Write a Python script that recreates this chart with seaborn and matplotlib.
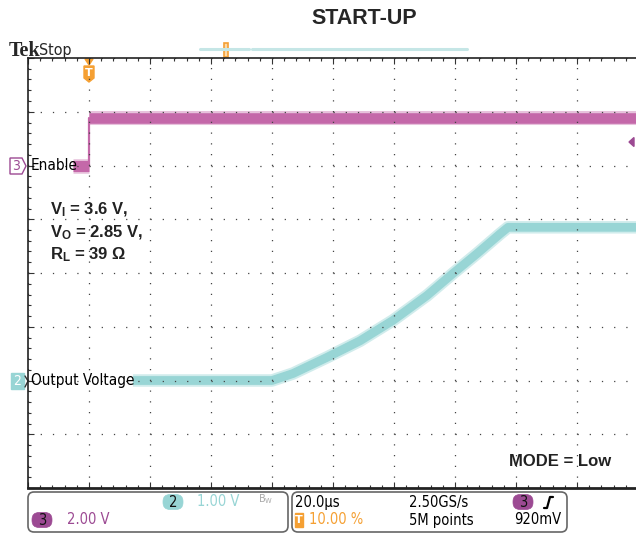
import numpy as np
import pandas as pd
import seaborn as sns
import matplotlib
matplotlib.use("Agg")
import matplotlib.pyplot as plt
from matplotlib.patches import FancyBboxPatch, Polygon, Rectangle
from matplotlib.lines import Line2D
from matplotlib.ticker import MultipleLocator
from matplotlib.transforms import Affine2D

# ---------------- data (read from the scope shot) ----------------
enable_t_us = [-5.2, 0.0, 0.0, 180.0]
enable_v = [0.0, 0.0, 1.75, 1.75]

vout_t_us = [14.4, 60.0, 66.9, 78.0, 88.9, 99.7, 110.8, 119.3, 127.2, 134.8, 137.4, 180.0]
vout_v = [0.0, 0.0, 0.13, 0.43, 0.74, 1.12, 1.58, 1.99, 2.36, 2.73, 2.85, 2.85]

time_per_div_us = 20.0
ch2_volts_per_div = 1.0
ch3_volts_per_div = 2.0
ch2_ground_div = 2.0
ch3_ground_div = 6.0
n_hdiv = 10
n_vdiv = 8
trigger_pos_frac = 0.10

title = "START-UP"
conditions = [r"$\mathbf{V_I}$ = 3.6 V,", r"$\mathbf{V_O}$ = 2.85 V,", r"$\mathbf{R_L}$ = 39 Ω"]
mode_text = "MODE = Low"

# ---------------- style ----------------
sns.set_style("white")
plt.rcParams["font.family"] = ["DejaVu Sans"]
plt.rcParams["lines.scale_dashes"] = False
plt.rcParams["mathtext.fontset"] = "custom"
plt.rcParams["mathtext.bf"] = "Liberation Sans:bold"
plt.rcParams["mathtext.rm"] = "Liberation Sans"

CH2 = "#98D5D5"
CH3 = "#C468A9"
CH3_DARK = "#9C4A93"
ORANGE = "#F5A033"

W, H = 636, 535
fig = plt.figure(figsize=(W / 100, H / 100), dpi=100)
pix = Affine2D().scale(1 / W, -1 / H).translate(0, 1) + fig.transFigure

x0_px, y_top_px, y_bot_px = 28, 58, 488
div_w = 61.0
ax = fig.add_axes([x0_px / W, 1 - y_bot_px / H, n_hdiv * div_w / W, (y_bot_px - y_top_px) / H])

t_min = -trigger_pos_frac * n_hdiv * time_per_div_us
t_max = t_min + n_hdiv * time_per_div_us

# trace axes (each channel its own vertical scale)
ax2 = ax.twinx()
ax3 = ax.twinx()
for a in (ax2, ax3):
    a.set_axis_off()
ax2.set_zorder(1)
ax3.set_zorder(2)
ax.set_zorder(3)
ax.patch.set_visible(False)

df_out = pd.DataFrame({"t": vout_t_us, "v": vout_v})
sns.lineplot(data=df_out, x="t", y="v", ax=ax2, color=CH2, lw=9.0, alpha=0.45,
             sort=False, estimator=None, solid_joinstyle="round", solid_capstyle="butt")
sns.lineplot(data=df_out, x="t", y="v", ax=ax2, color=CH2, lw=6.3,
             sort=False, estimator=None, solid_joinstyle="round", solid_capstyle="butt")

df_en = pd.DataFrame({"t": enable_t_us, "v": enable_v})
for seg, lw in (([0, 1], 8.0), ([2, 3], 7.6)):
    sns.lineplot(data=df_en.iloc[seg], x="t", y="v", ax=ax3, color=CH3, lw=lw + 2.5, alpha=0.4,
                 sort=False, estimator=None, solid_capstyle="butt")
    sns.lineplot(data=df_en.iloc[seg], x="t", y="v", ax=ax3, color=CH3, lw=lw,
                 sort=False, estimator=None, solid_capstyle="butt")
sns.lineplot(data=df_en.iloc[[1, 2]], x="t", y="v", ax=ax3, color=CH3, lw=1.6,
             sort=False, estimator=None)

ax2.set_ylim(-ch2_ground_div * ch2_volts_per_div, (n_vdiv - ch2_ground_div) * ch2_volts_per_div)
ax3.set_ylim(-ch3_ground_div * ch3_volts_per_div, (n_vdiv - ch3_ground_div) * ch3_volts_per_div)

# graticule
ax.set_xlim(t_min, t_max)
ax.set_ylim(0, n_vdiv)
ax.xaxis.set_major_locator(MultipleLocator(time_per_div_us))
ax.xaxis.set_minor_locator(MultipleLocator(time_per_div_us / 5))
ax.yaxis.set_major_locator(MultipleLocator(1))
ax.yaxis.set_minor_locator(MultipleLocator(0.2))
ax.set_xlabel("")
ax.set_ylabel("")
ax.tick_params(axis="x", which="both", direction="in", top=True, bottom=True,
               labelbottom=False, labeltop=False, color="#333333", width=0.8)
ax.tick_params(axis="x", which="major", length=4.5)
ax.tick_params(axis="x", which="minor", length=2.5)
ax.tick_params(axis="y", which="both", direction="in", left=True, right=False,
               labelleft=False, color="#333333", width=0.8)
ax.tick_params(axis="y", which="major", length=4.5)
ax.tick_params(axis="y", which="minor", length=2.5)
ax.xaxis.grid(True, which="major", color="#444444", lw=0.9,
              linestyle=(0, (0.9, 53.75 / 5 * 0.72 - 0.9)))
ax.yaxis.grid(True, which="major", color="#444444", lw=0.9,
              linestyle=(0, (0.9, div_w / 5 * 0.72 - 0.9)))
for s in ("top", "left"):
    ax.spines[s].set_color("#222222")
    ax.spines[s].set_linewidth(1.2)
ax.spines["bottom"].set_color("#222222")
ax.spines["bottom"].set_linewidth(2.0)
ax.spines["right"].set_visible(False)

# ---------------- annotations ----------------
fig.text(364, 24, title, transform=pix, ha="center", va="baseline",
         fontsize=15.5, fontweight="bold", family="Liberation Sans")
fig.text(9, 56, "Tek", transform=pix, ha="left", va="baseline", fontsize=14.5,
         fontweight="bold", family="Liberation Serif")
fig.text(39, 55, "Stop", transform=pix, ha="left", va="baseline", fontsize=11.5,
         family="DejaVu Sans", fontstretch="condensed")

for txt, yb in zip(conditions, (214, 237, 259)):
    fig.text(50, yb, txt, transform=pix, ha="left", va="baseline", fontsize=12,
             fontweight="bold", family="Liberation Sans", color="#222222")
fig.text(509, 466, mode_text, transform=pix, ha="left", va="baseline", fontsize=12,
         fontweight="bold", family="Liberation Sans", color="#222222")

# channel labels
fig.add_artist(Polygon([[10, 158], [22, 158], [26, 166], [22, 174], [10, 174]], closed=True,
                       transform=pix, fc="white", ec=CH3_DARK, lw=1.0))
fig.text(16, 166, "3", transform=pix, ha="center", va="center", fontsize=10, color=CH3_DARK,
         fontstretch="condensed")
fig.text(31, 166, "Enable", transform=pix, ha="left", va="center", fontsize=11,
         fontstretch="condensed", color="black")
fig.add_artist(Polygon([[11, 373], [24, 373], [24, 389], [11, 389]], closed=True,
                       transform=pix, fc=CH2, ec=CH2, lw=1.0))
fig.add_artist(Line2D([25, 28, 25], [376, 381, 387], transform=pix, color="#333333", lw=1.0))
fig.text(17.5, 381, "2", transform=pix, ha="center", va="center", fontsize=10, color="white",
         fontstretch="condensed")
fig.text(31, 381, "Output Voltage", transform=pix, ha="left", va="center", fontsize=11,
         fontstretch="condensed", color="black")

# trigger marker (top-left) and record view bar
fig.add_artist(Polygon([[85, 59], [93, 59], [89, 65]], closed=True, transform=pix,
                       fc=ORANGE, ec=ORANGE))
fig.add_artist(Polygon([[84, 66], [94, 66], [94, 78], [89, 82], [84, 78]], closed=True,
                       transform=pix, fc=ORANGE, ec=ORANGE))
fig.text(89, 73, "T", transform=pix, ha="center", va="center", fontsize=8, color="white",
         fontweight="bold")
fig.add_artist(Line2D([200, 249], [49, 49], transform=pix, color="#C5E6E6", lw=2.2))
fig.add_artist(Line2D([252, 467], [49, 49], transform=pix, color="#C5E6E6", lw=2.2))
fig.add_artist(Rectangle((224, 43), 4, 14, transform=pix, fc="#FBD9A8", ec=ORANGE, lw=1.2))

# right-edge channel 3 marker
fig.add_artist(Polygon([[629, 142], [634, 137.5], [634, 146.5]], closed=True, transform=pix,
                       fc=CH3_DARK, ec=CH3_DARK))

# ---------------- status bar ----------------
for (bx, bw) in ((28, 260), (292, 275)):
    fig.add_artist(FancyBboxPatch((bx, 492), bw, 40, transform=pix,
                                  boxstyle="round,pad=0,rounding_size=6",
                                  fc="white", ec="#666666", lw=1.2))


def pill(cx, cy, label, color):
    fig.add_artist(FancyBboxPatch((cx - 10, cy - 7.5), 20, 15, transform=pix,
                                  boxstyle="round,pad=0,rounding_size=7",
                                  fc=color, ec=color, lw=0.5))
    fig.text(cx, cy + 0.5, label, transform=pix, ha="center", va="center", fontsize=10.5,
             fontstretch="condensed", color="#111111")


sfont = dict(transform=pix, va="center", fontsize=10.5, fontstretch="condensed")
pill(173, 502, "2", CH2)
fig.text(197, 502, "1.00 V", ha="left", color=CH2, **sfont)
fig.text(258, 499, r"$\mathregular{B_W}$", ha="left", color="#AAAAAA", transform=pix,
         va="center", fontsize=7)
pill(42, 520, "3", CH3_DARK)
fig.text(67, 520, "2.00 V", ha="left", color=CH3_DARK, **sfont)

fig.text(295, 502, "20.0µs", ha="left", color="black", **sfont)
fig.text(409, 502, "2.50GS/s", ha="left", color="black", **sfont)
pill(523, 502, "3", CH3_DARK)
fig.add_artist(Line2D([544, 547, 550, 553], [508, 508, 497, 497], transform=pix,
                      color="black", lw=1.6))
fig.add_artist(Rectangle((295, 513), 8, 14, transform=pix, fc=ORANGE, ec=ORANGE))
fig.text(299, 520, "T", ha="center", color="white", transform=pix, va="center",
         fontsize=8, fontweight="bold")
fig.text(309, 520, "10.00 %", ha="left", color=ORANGE, **sfont)
fig.text(409, 520, "5M points", ha="left", color="black", **sfont)
fig.text(514, 520, "920mV", ha="left", color="black", **sfont)

fig.savefig("out.png", dpi=100)
